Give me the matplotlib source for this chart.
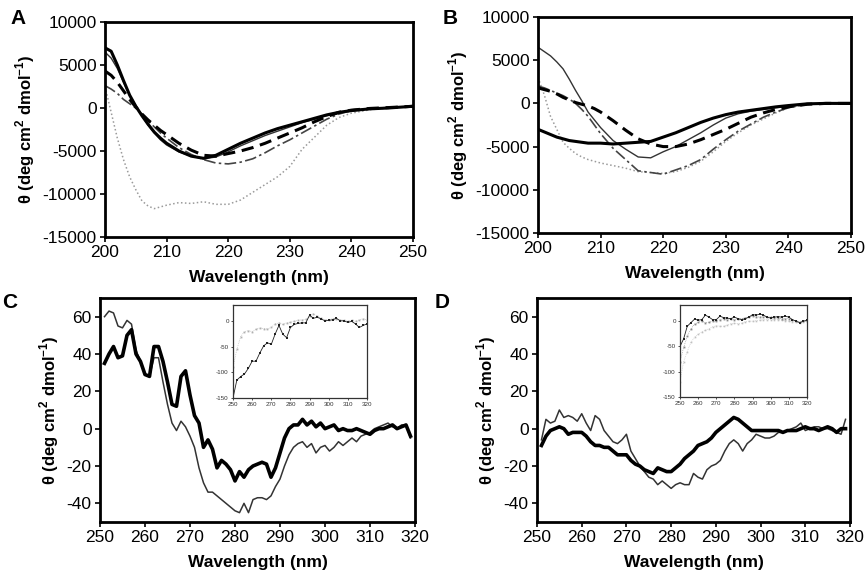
import numpy as np
import matplotlib
matplotlib.use("Agg")
import matplotlib.pyplot as plt

plt.rcParams['font.family'] = ['Liberation Sans', 'DejaVu Sans']
plt.rcParams['mathtext.fontset'] = 'custom'
plt.rcParams['mathtext.rm'] = 'Liberation Sans:bold'
plt.rcParams['mathtext.bf'] = 'Liberation Sans:bold'
plt.rcParams['axes.unicode_minus'] = False

# ---------------- Panel A / B (far-UV) ----------------
wl_far = [200, 201, 202, 203, 204, 205, 206, 207, 208, 209, 210, 212, 214, 216, 218,
          220, 222, 224, 226, 228, 230, 232, 234, 236, 238, 240, 243, 246, 250]

A_thick = [7000, 6600, 5000, 3200, 1500, 200, -900, -1900, -2800, -3500, -4100, -5000, -5600, -5850, -5500,
           -4800, -4100, -3500, -2900, -2400, -2000, -1600, -1200, -800, -500, -300, -100, 0, 200]
A_thin = [6500, 5800, 4600, 3000, 1500, 300, -900, -2000, -2900, -3700, -4300, -5100, -5600, -5900, -5700,
          -5100, -4400, -3800, -3200, -2700, -2200, -1700, -1300, -900, -600, -300, -100, 0, 200]
A_dash = [4300, 3800, 3000, 2000, 1000, 100, -700, -1400, -2000, -2600, -3100, -4100, -4900, -5500, -5600,
          -5300, -5000, -4600, -4100, -3500, -2900, -2300, -1600, -1000, -500, -250, -50, 50, 200]
A_dashdot = [2600, 2200, 1700, 1000, 500, 0, -700, -1500, -2200, -2900, -3500, -4600, -5400, -6000, -6400,
             -6500, -6300, -5900, -5200, -4400, -3700, -2900, -2100, -1300, -700, -300, -50, 50, 150]
A_dotted = [2500, -500, -3500, -6000, -8000, -9500, -10800, -11400, -11700, -11500, -11300, -11000, -11100, -10900, -11200,
            -11200, -10700, -9800, -8900, -8000, -6800, -4800, -3400, -2000, -1100, -600, -200, 0, 200]

B_thick = [-3000, -3300, -3600, -3900, -4100, -4300, -4400, -4500, -4600, -4600, -4600, -4700, -4600, -4500, -4400,
           -3900, -3400, -2800, -2200, -1700, -1300, -1000, -800, -600, -400, -250, -50, 0, 0]
B_thin = [6500, 6000, 5500, 4800, 4000, 2800, 1500, 300, -1000, -1900, -2800, -4300, -5300, -6200, -6300,
          -5600, -5000, -4200, -3400, -2500, -1700, -1200, -900, -700, -500, -350, -100, 0, 0]
B_dash = [1800, 1600, 1400, 1100, 700, 400, 100, -100, -300, -600, -1000, -2000, -3100, -4100, -4700,
          -5000, -5000, -4700, -4200, -3600, -3000, -2300, -1600, -1100, -700, -400, -100, 0, 0]
B_dashdot = [2000, 1800, 1500, 1200, 900, 500, 0, -700, -1500, -2500, -3500, -5200, -6500, -7800, -8000,
             -8200, -7700, -7200, -6500, -5300, -4200, -3200, -2400, -1600, -1000, -500, -100, 0, 0]
B_dotted = [3000, 1000, -1500, -3000, -4500, -5200, -5800, -6200, -6500, -6700, -6900, -7200, -7500, -7900, -8000,
            -8100, -7900, -7400, -6700, -5600, -4400, -3400, -2500, -1800, -1100, -500, -100, 0, 0]

# ---------------- Panel C / D (near-UV) ----------------
wl_near = list(range(251, 320))

C_thick = [35, 40, 44, 38, 39, 50, 53, 40, 36, 29, 28, 44, 44, 36, 25, 13, 12, 28, 31, 18,
           7, 3, -10, -6, -11, -21, -17, -19, -22, -28, -23, -26, -22, -20, -19, -18, -19, -26, -21, -13,
           -5, 0, 2, 2, 5, 2, 4, 1, 3, 0, 1, 2, -1, 0, -1, -1, 0, -1, -2, -3,
           -1, 0, 0, 1, 2, 0, 1, 2, -4]
C_thin = [60, 63, 62, 55, 54, 58, 56, 42, 36, 29, 28, 38, 38, 25, 13, 3, -1, 4, 1, -4,
          -10, -21, -29, -34, -34, -36, -38, -40, -42, -44, -45, -40, -45, -38, -37, -37, -38, -36, -31, -27,
          -20, -14, -10, -8, -7, -10, -8, -13, -10, -9, -12, -10, -7, -9, -7, -5, -7, -4, -3, -2,
          0, 1, 2, 3, 1, 0, 2, 2, -5]

D_thick = [-9, -4, -1, 0, 1, 0, -3, -2, -2, -2, -4, -7, -9, -9, -10, -10, -12, -14, -14, -14,
           -17, -19, -20, -22, -23, -24, -21, -22, -23, -23, -21, -19, -16, -14, -12, -9, -8, -7, -5, -2,
           0, 2, 4, 6, 5, 3, 1, -1, -1, -1, -1, -1, -1, -1, -2, -1, -1, -1, 0, 1,
           0, 0, -1, 0, 1, 0, -2, 0, 0]
D_thin = [-6, 5, 3, 4, 10, 6, 7, 6, 4, 8, 3, -1, 7, 5, -1, -4, -7, -8, -6, -3,
          -12, -16, -20, -23, -26, -27, -30, -28, -30, -32, -30, -29, -30, -30, -24, -26, -27, -22, -20, -19,
          -17, -12, -8, -6, -8, -12, -8, -6, -3, -4, -5, -5, -4, -2, -2, -1, 0, 1, 3, -1,
          0, 1, 1, 0, 0, -1, -2, -3, 5]

# ---------------- Insets ----------------
wl_inset = list(range(250, 321, 2))
Ci_black = [-150, -115, -108, -103, -92, -78, -78, -62, -48, -42, -45, -25, -8, -25, -32, -12, -6, -4,
            -3, -3, 12, 6, 8, 5, 1, 2, 3, 6, 1, 1, -2, 0, -5, -12, -8, -5]
Ci_grey = [-90, -55, -30, -20, -18, -20, -15, -13, -14, -15, -12, -5, -3, -6, -3, -2, 0, 2,
           3, 4, 10, 15, 10, 6, 3, 3, 5, 5, 3, 2, 0, 2, 0, 3, 5, 3]
Di_black = [-50, -35, -10, -3, 4, 2, 3, 12, 8, 3, 3, 10, 7, 6, 5, 8, 5, 3,
            5, 8, 13, 12, 14, 12, 8, 6, 8, 9, 8, 10, 8, 3, 0, -3, 0, 2]
Di_mid = [-80, -52, -30, -15, -6, -2, 0, -3, -2, 0, 0, 3, 5, 3, 5, 3, 5, 5,
          7, 8, 10, 9, 8, 9, 8, 8, 7, 6, 5, 5, 5, 3, 0, -2, 0, 0]
Di_light = [-120, -80, -60, -42, -32, -26, -21, -18, -15, -11, -9, -10, -10, -8, -5, -4, -5, -4,
            -1, 0, 0, 1, 2, 3, 3, 3, 3, 3, 2, 1, 0, -1, -2, -3, -1, 0]

far_yticks = [-15000, -10000, -5000, 0, 5000, 10000]
far_xticks = [200, 210, 220, 230, 240, 250]
near_yticks = [-40, -20, 0, 20, 40, 60]
near_xticks = [250, 260, 270, 280, 290, 300, 310, 320]
inset_xticks = [250, 260, 270, 280, 290, 300, 310, 320]
inset_yticks = [-150, -100, -50, 0]

W, H = 866, 580
fig = plt.figure(figsize=(W / 100, H / 100), dpi=100)


def ax_px(l, r, t, b):
    return fig.add_axes([l / W, 1 - b / H, (r - l) / W, (b - t) / H])


ylabel = r'θ (deg cm$^{2}$ dmol$^{-1}$)'


def style_main(ax):
    for s in ax.spines.values():
        s.set_linewidth(2.0)
        s.set_color('black')
    ax.tick_params(direction='out', length=3.5, width=1.2, labelsize=12.5, pad=2.5)
    ax.set_xlabel('Wavelength (nm)', fontsize=12.5, fontweight='bold', labelpad=7)
    ax.set_ylabel(ylabel, fontsize=12, fontweight='bold', labelpad=4)


def draw_far(ax, thick, thin, dash, dashdot, dotted):
    ax.plot(wl_far, dotted, color='#9a9a9a', lw=1.1, linestyle=(0, (1, 1.6)))
    ax.plot(wl_far, dashdot, color='#444444', lw=1.2, linestyle=(0, (7, 2, 1.5, 2)))
    ax.plot(wl_far, thin, color='#333333', lw=1.0)
    ax.plot(wl_far, dash, color='black', lw=2.2, linestyle=(0, (4, 2.2)))
    ax.plot(wl_far, thick, color='black', lw=2.2)
    ax.set_xlim(200, 250)
    ax.set_ylim(-15000, 10000)
    ax.set_xticks(far_xticks)
    ax.set_yticks(far_yticks)
    style_main(ax)


def draw_near(ax, thick, thin):
    ax.plot(wl_near, thin, color='#333333', lw=1.1)
    ax.plot(wl_near, thick, color='black', lw=2.6)
    ax.set_xlim(250, 320)
    ax.set_ylim(-50, 70)
    ax.set_xticks(near_xticks)
    ax.set_yticks(near_yticks)
    style_main(ax)


def style_inset(ax):
    ax.set_xlim(250, 320)
    ax.set_ylim(-150, 32)
    ax.set_xticks(inset_xticks)
    ax.set_yticks(inset_yticks)
    for s in ax.spines.values():
        s.set_linewidth(0.9)
        s.set_color('#333333')
    ax.tick_params(direction='out', length=1.5, width=0.6, labelsize=4.5, pad=1.5, colors='#333333')


axA = ax_px(105, 413, 22, 237)
draw_far(axA, A_thick, A_thin, A_dash, A_dashdot, A_dotted)
axB = ax_px(538, 851, 17, 233)
draw_far(axB, B_thick, B_thin, B_dash, B_dashdot, B_dotted)

axC = ax_px(100, 415, 298, 522)
draw_near(axC, C_thick, C_thin)
axD = ax_px(537, 850, 298, 522)
draw_near(axD, D_thick, D_thin)

insC = ax_px(233, 367, 305, 398)
insC.plot(wl_inset, Ci_grey, color='#b0b0b0', lw=0.5, linestyle=':', marker='s', markersize=1.3,
          markerfacecolor='#b0b0b0', markeredgewidth=0)
insC.plot(wl_inset, Ci_black, color='#222222', lw=0.6, linestyle='-', marker='s', markersize=1.6,
          markerfacecolor='#222222', markeredgewidth=0)
style_inset(insC)

insD = ax_px(680, 807, 305, 397)
insD.plot(wl_inset, Di_light, color='#c0c0c0', lw=0.5, linestyle=':', marker='s', markersize=1.2,
          markerfacecolor='#c0c0c0', markeredgewidth=0)
insD.plot(wl_inset, Di_mid, color='#888888', lw=0.5, linestyle=':', marker='s', markersize=1.3,
          markerfacecolor='#888888', markeredgewidth=0)
insD.plot(wl_inset, Di_black, color='#222222', lw=0.6, linestyle='-', marker='s', markersize=1.6,
          markerfacecolor='#222222', markeredgewidth=0)
style_inset(insD)

for letter, x, y in [('A', 10, 18), ('B', 443, 18), ('C', 2, 302), ('D', 435, 302)]:
    fig.text(x / W, 1 - y / H, letter, fontsize=15, fontweight='bold', ha='left', va='center')

fig.savefig('out.png', dpi=100)
